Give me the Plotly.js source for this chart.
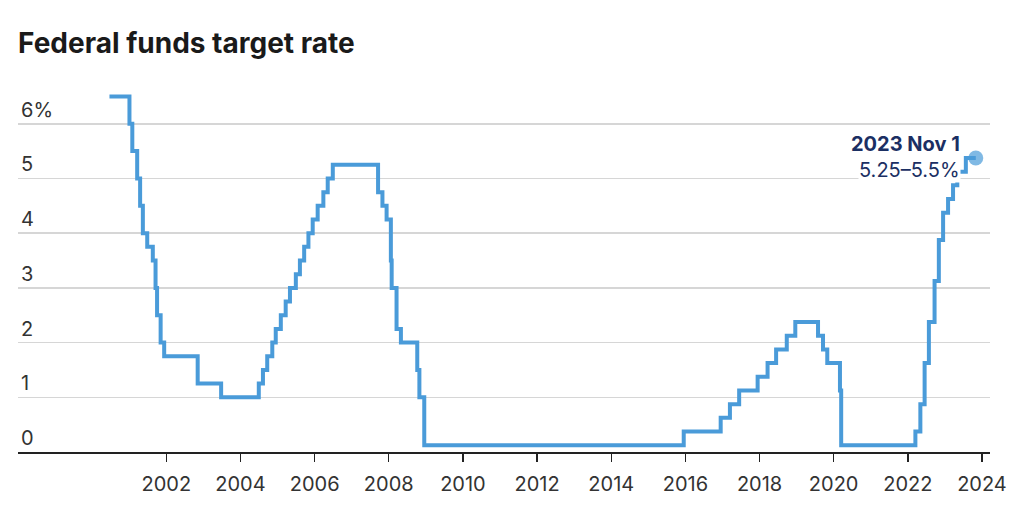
<!DOCTYPE html>
<html>
<head>
<meta charset="utf-8">
<script src="https://cdn.plot.ly/plotly-3.0.1.min.js"></script>
<style>
html,body{margin:0;padding:0;background:#fff;}
#chart{width:1020px;height:511px;}
</style>
</head>
<body>
<div id="chart"></div>
<script>
// Federal funds target rate (midpoint of target range after 2008), step changes
const dates = ['2000-06-20','2001-01-03','2001-01-31','2001-03-20','2001-04-18','2001-05-15','2001-06-27','2001-08-21','2001-09-17','2001-10-02','2001-11-06','2001-12-11','2002-11-06','2003-06-25','2004-06-30','2004-08-10','2004-09-21','2004-11-10','2004-12-14','2005-02-02','2005-03-22','2005-05-03','2005-06-30','2005-08-09','2005-09-20','2005-11-01','2005-12-13','2006-01-31','2006-03-28','2006-05-10','2006-06-29','2007-09-18','2007-10-31','2007-12-11','2008-01-22','2008-01-30','2008-03-18','2008-04-30','2008-10-08','2008-10-29','2008-12-16','2015-12-16','2016-12-14','2017-03-15','2017-06-14','2017-12-13','2018-03-21','2018-06-13','2018-09-26','2018-12-19','2019-07-31','2019-09-18','2019-10-30','2020-03-03','2020-03-15','2022-03-16','2022-05-04','2022-06-15','2022-07-27','2022-09-21','2022-11-02','2022-12-14','2023-02-01','2023-03-22','2023-05-03','2023-07-26','2023-11-01'];
const rates = [6.5,6.0,5.5,5.0,4.5,4.0,3.75,3.5,3.0,2.5,2.0,1.75,1.25,1.0,1.25,1.5,1.75,2.0,2.25,2.5,2.75,3.0,3.25,3.5,3.75,4.0,4.25,4.5,4.75,5.0,5.25,4.75,4.5,4.25,3.5,3.0,2.25,2.0,1.5,1.0,0.125,0.375,0.625,0.875,1.125,1.375,1.625,1.875,2.125,2.375,2.125,1.875,1.625,1.125,0.125,0.375,0.875,1.625,2.375,3.125,3.875,4.375,4.625,4.875,5.125,5.375,5.375];

const yTickVals = [0,1,2,3,4,5,6];
const yTickText = ['0','1','2','3','4','5','6%'];
const xTickVals = ['2002-01-01','2004-01-01','2006-01-01','2008-01-01','2010-01-01','2012-01-01','2014-01-01','2016-01-01','2018-01-01','2020-01-01','2022-01-01','2024-01-01'];
const xTickText = ['2002','2004','2006','2008','2010','2012','2014','2016','2018','2020','2022','2024'];

const lastDate = dates[dates.length-1];
const lastRate = rates[rates.length-1];
const labelDate = '2023 Nov 1';
const labelRange = '5.25–5.5%';

const lineColor = '#4a9bd9';
const navy = '#1b2f63';
const FONT = 'Inter, "Open Sans", sans-serif';

const traces = [
  {
    x: dates, y: rates, type: 'scatter', mode: 'lines',
    line: {shape: 'hv', color: lineColor, width: 4},
    hoverinfo: 'x+y'
  },
  {
    x: [lastDate], y: [lastRate], type: 'scatter', mode: 'markers',
    marker: {size: 15, color: 'rgba(74,155,217,0.7)'},
    hoverinfo: 'skip'
  }
];

const layout = {
  width: 1020, height: 511,
  margin: {l: 18, r: 30, t: 80, b: 59},
  paper_bgcolor: '#fff', plot_bgcolor: '#fff',
  showlegend: false,
  font: {family: FONT, color: '#333'},
  title: {
    text: '<b>Federal funds target rate</b>',
    x: 0, xref: 'paper', xanchor: 'left',
    y: 1 - 43/511, yanchor: 'middle', yref: 'container',
    font: {family: FONT, size: 28, color: '#1a1a1a'}
  },
  xaxis: {
    type: 'date',
    range: ['1998-01-01', '2024-03-20'],
    tickvals: xTickVals, ticktext: xTickText,
    ticks: 'outside', ticklen: 8, tickwidth: 1.5, tickcolor: '#222',
    ticklabelstandoff: 5,
    showline: true, linecolor: '#222', linewidth: 1.5,
    showgrid: false, zeroline: false,
    tickfont: {size: 20, color: '#333'},
    fixedrange: true
  },
  yaxis: {
    range: [0, 6.8],
    tickvals: yTickVals, ticktext: yTickText,
    ticklabelposition: 'inside top',
    ticks: '',
    showgrid: true, gridcolor: '#d6d6d6', gridwidth: 1.5,
    zeroline: false, showline: false,
    tickfont: {size: 20, color: '#333'},
    fixedrange: true
  },
  annotations: [
    {
      x: lastDate, y: lastRate, xref: 'x', yref: 'y',
      text: '<b>' + labelDate + '</b>',
      showarrow: false, xanchor: 'right', yanchor: 'middle',
      xshift: -15, yshift: 14,
      font: {size: 20, color: navy, family: FONT},
      bgcolor: '#fff', borderpad: 0
    },
    {
      x: lastDate, y: lastRate, xref: 'x', yref: 'y',
      text: labelRange,
      showarrow: false, xanchor: 'right', yanchor: 'middle',
      xshift: -15, yshift: -12,
      font: {size: 20, color: navy, family: FONT},
      bgcolor: '#fff', borderpad: 0
    }
  ]
};

Plotly.newPlot('chart', traces, layout, {displayModeBar: false, staticPlot: true});
</script>
</body>
</html>
